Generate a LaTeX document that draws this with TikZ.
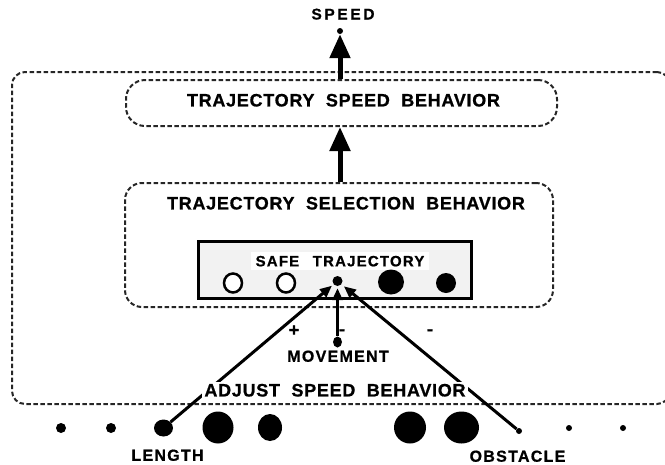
\documentclass[tikz,border=0pt]{standalone}
\usepackage{fontspec}
\setmainfont{Liberation Sans}
\usetikzlibrary{arrows.meta,shapes.geometric}
\begin{document}
\begin{tikzpicture}[x=1pt,y=-1pt,
  dashbox/.style={draw=black!85, line width=2pt, dash pattern=on 4.5pt off 2.5pt, inner sep=0pt},
  lbl/.style={font=\fontsize{18}{20}\selectfont\bfseries\addfontfeature{LetterSpace=4,FakeBold=0.8},
    text height=12.9pt, text depth=0pt, inner sep=0pt},
  mid/.style={font=\fontsize{16}{18}\selectfont\bfseries\addfontfeature{LetterSpace=8,FakeBold=0.8},
    text height=11.5pt, text depth=0pt, inner sep=0pt},
  sign/.style={font=\fontsize{18}{20}\selectfont\bfseries\addfontfeature{FakeBold=0.8}, inner sep=0pt, anchor=base},
  dot/.style={ellipse, fill=black, inner sep=0pt},
  ring/.style={ellipse, draw=black, line width=2.5pt, fill=white, inner sep=0pt},
  bigarrow/.style={line width=5pt, -{Triangle[length=24pt,width=20pt]}},
  thinarrow/.style={line width=3pt, -{Triangle[length=12pt,width=10pt]}}
]
\useasboundingbox (0,0) rectangle (665,464);

% behaviour frames
\node[dashbox, rounded corners=13pt, minimum width=658pt, minimum height=332pt] (outer) at (341,238) {};
\node[dashbox, rounded corners=19pt, minimum width=431pt, minimum height=46pt] (speedbox) at (341.5,103) {};
\node[dashbox, rounded corners=17pt, minimum width=428pt, minimum height=124pt] (selbox) at (339,245) {};
\node[draw, line width=3pt, fill=black!5, inner sep=0pt, minimum width=273pt, minimum height=57pt] (safebox) at (335,270) {};

% frame titles
\node[lbl] (speedlbl) at (343.5,100) {TRAJECTORY~~SPEED~~BEHAVIOR};
\node[lbl] (sellbl) at (346,203) {TRAJECTORY~~SELECTION~~BEHAVIOR};
\node[font=\fontsize{15}{17}\selectfont\bfseries\addfontfeature{LetterSpace=8,FakeBold=0.8},
  text height=10.7pt, text depth=0pt, fill=white, inner xsep=5pt, inner ysep=3.5pt]
  (safelbl) at (340,261) {SAFE\hspace{0.9em}TRAJECTORY};
\node[font=\fontsize{15.5}{17}\selectfont\bfseries\addfontfeature{LetterSpace=17,FakeBold=0.8},
  text height=11pt, text depth=0pt, inner sep=0pt] (speedout) at (343,14) {SPEED};

% trajectory units
\node[ring, minimum width=18pt, minimum height=19pt] (r1) at (233,283) {};
\node[ring, minimum width=18pt, minimum height=19pt] (r2) at (286,283) {};
\node[dot, minimum size=10pt] (target) at (337.5,281) {};
\node[dot, minimum width=26pt, minimum height=25pt] (f1) at (391,282) {};
\node[dot, minimum width=20pt, minimum height=20pt] (f2) at (446,283) {};

% output
\node[dot, minimum size=6pt] (speeddot) at (340,31) {};
\draw[bigarrow] (speeddot |- speedbox.north) -- (speeddot);
\draw[bigarrow] (speeddot |- selbox.north) -- (speeddot |- speedbox.south);

% sensed inputs
\node[dot, minimum width=9pt, minimum height=11pt] (movedot) at (337.5,342) {};
\node[dot, minimum size=10pt] (p1) at (61,428) {};
\node[dot, minimum size=10pt] (p2) at (111,428) {};
\node[dot, minimum width=19pt, minimum height=17pt] (lendot) at (163.5,428) {};
\node[dot, minimum width=31pt, minimum height=32pt] (p3) at (218,427.5) {};
\node[dot, minimum width=24pt, minimum height=27pt] (p4) at (270,427.5) {};
\node[dot, minimum width=32pt, minimum height=32pt] (p5) at (410,427.5) {};
\node[dot, minimum width=35pt, minimum height=32pt] (p6) at (461.5,427.5) {};
\node[dot, minimum size=6pt] (obsdot) at (519,431) {};
\node[dot, minimum size=6pt] (p7) at (569,428) {};
\node[dot, minimum size=6pt] (p8) at (623,428) {};

\draw[thinarrow, shorten >=2pt] (movedot) -- (target);
\draw[thinarrow, shorten >=2pt] (lendot) -- (target);
\draw[thinarrow, shorten >=3pt] (obsdot) -- (target);

% signs and input names
\node[sign] (plus) at (294,336) {+};
\node[sign] (minusa) at (342,335) {-};
\node[sign] (minusb) at (430,335) {-};
\node[mid] (movelbl) at (338,356) {MOVEMENT};
\node[mid] (lenlbl) at (167.5,455) {LENGTH};
\node[mid] (obslbl) at (517.5,456) {OBSTACLE};
\node[lbl, fill=white, inner xsep=2pt, inner ysep=1.5pt] (adjlbl) at (335,390) {ADJUST~~SPEED~~BEHAVIOR};
\end{tikzpicture}
\end{document}
